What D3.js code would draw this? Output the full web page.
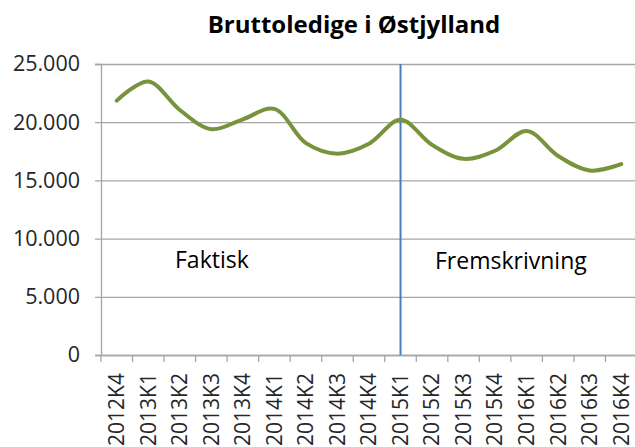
<!DOCTYPE html>
<html>
<head>
<meta charset="utf-8">
<script src="https://cdn.jsdelivr.net/npm/d3@7"></script>
<style>
  body { margin: 0; background: #fff; }
  svg { display: block; font-family: "Open Sans", sans-serif; }
</style>
</head>
<body>
<svg width="635" height="447"></svg>
<script>
// Bruttoledige i Østjylland - faktisk og fremskrivning
var kvartaler = ["2012K4", "2013K1", "2013K2", "2013K3", "2013K4", "2014K1", "2014K2", "2014K3", "2014K4",
                 "2015K1", "2015K2", "2015K3", "2015K4", "2016K1", "2016K2", "2016K3", "2016K4"];
var ledige = [21850, 23500, 21050, 19400, 20250, 21150, 18200, 17300, 18150,
              20200, 18050, 16850, 17550, 19250, 17100, 15850, 16400];
var yTicks = [0, 5000, 10000, 15000, 20000, 25000];
var skillelinje = "2015K1";

var svg = d3.select("svg"),
    plotLeft = 101, plotRight = 637, plotTop = 64, plotBottom = 355;

var x = d3.scaleBand()
  .domain(kvartaler)
  .range([plotLeft, plotRight]);

var y = d3.scaleLinear()
  .domain([0, 25000])
  .range([plotBottom, plotTop]);

var fmt = function(v) { return d3.format(",")(v).replace(/,/g, "."); };
var cx = function(k) { return x(k) + x.bandwidth() / 2; };

// gitterlinjer + y-akse
var yAxis = svg.append("g")
  .attr("transform", "translate(" + plotLeft + ",0)")
  .call(d3.axisLeft(y).tickValues(yTicks).tickSize(6).tickPadding(15).tickFormat(fmt));
yAxis.select(".domain").attr("stroke", "#a6a6a6").attr("stroke-width", 1.3);
yAxis.selectAll(".tick line").attr("stroke", "#a6a6a6").attr("stroke-width", 1.3)
  .attr("x2", plotRight - plotLeft).attr("x1", -6);
yAxis.selectAll(".tick text")
  .attr("font-size", 21.5)
  .attr("fill", "#262626")
  .attr("font-family", "Open Sans, sans-serif");

// x-akse
var xAxis = svg.append("g")
  .attr("transform", "translate(0," + plotBottom + ")")
  .call(d3.axisBottom(x).tickSize(0));
xAxis.select(".domain").attr("stroke", "#a6a6a6").attr("stroke-width", 1.3);
xAxis.selectAll(".tick text")
  .attr("font-size", 21)
  .attr("fill", "#262626")
  .attr("font-family", "Open Sans, sans-serif")
  .attr("text-anchor", "end")
  .attr("transform", "rotate(-90)")
  .attr("x", -18)
  .attr("y", 0)
  .attr("dy", "0.35em");

// tick-streger mellem kategorier
svg.append("g")
  .selectAll("line")
  .data(kvartaler.concat(["end"]))
  .enter().append("line")
  .attr("x1", function(d, i) { return i < kvartaler.length ? x(d) : x.range()[1]; })
  .attr("x2", function(d, i) { return i < kvartaler.length ? x(d) : x.range()[1]; })
  .attr("y1", plotBottom)
  .attr("y2", plotBottom + 7)
  .attr("stroke", "#a6a6a6")
  .attr("stroke-width", 1.3);

// skillelinje
svg.append("line")
  .attr("x1", cx(skillelinje))
  .attr("x2", cx(skillelinje))
  .attr("y1", y(25000))
  .attr("y2", y(0))
  .attr("stroke", "#4a7ebb")
  .attr("stroke-width", 2);

// kurve
var line = d3.line()
  .x(function(d, i) { return cx(kvartaler[i]); })
  .y(function(d) { return y(d); })
  .curve(d3.curveCatmullRom.alpha(0.5));

svg.append("path")
  .datum(ledige)
  .attr("fill", "none")
  .attr("stroke", "#77933c")
  .attr("stroke-width", 4)
  .attr("stroke-linecap", "round")
  .attr("d", line);

// tekster
svg.append("text")
  .attr("x", 354)
  .attr("y", 33)
  .attr("text-anchor", "middle")
  .attr("font-size", 24)
  .attr("font-weight", "bold")
  .attr("fill", "#000")
  .text("Bruttoledige i Østjylland");

svg.append("text")
  .attr("x", 175)
  .attr("y", 268)
  .attr("font-size", 23)
  .attr("fill", "#000")
  .text("Faktisk");

svg.append("text")
  .attr("x", 435)
  .attr("y", 269)
  .attr("font-size", 23)
  .attr("fill", "#000")
  .text("Fremskrivning");
</script>
</body>
</html>
